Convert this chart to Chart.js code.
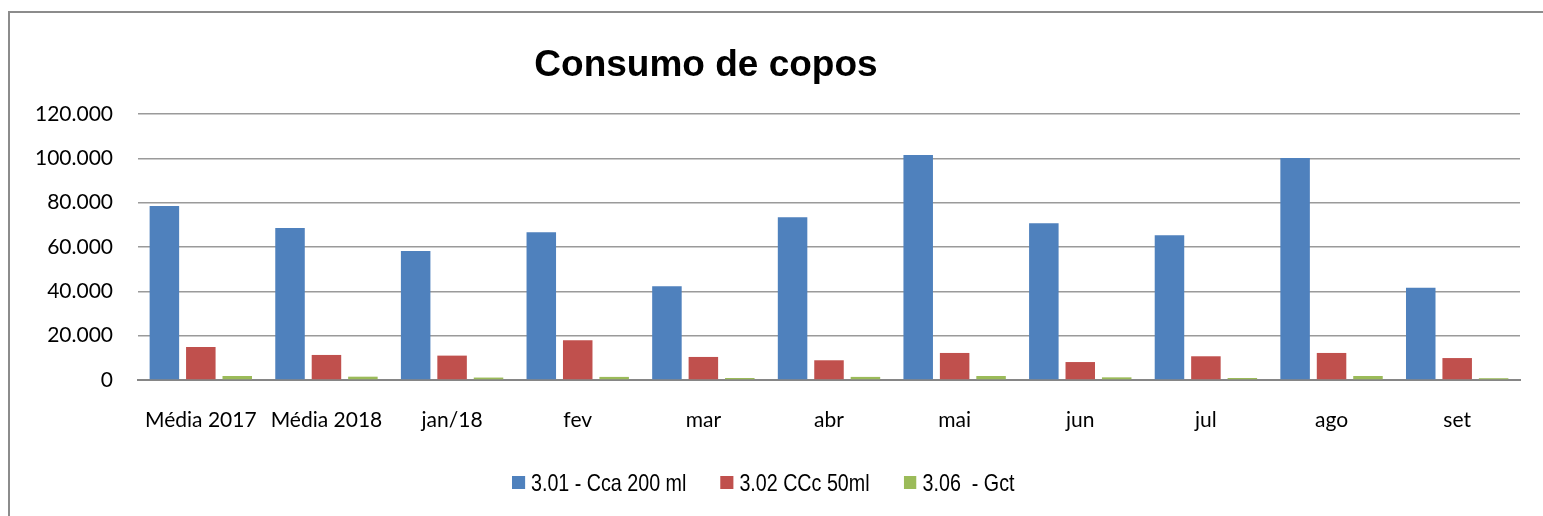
<!DOCTYPE html>
<html>
<head>
<meta charset="utf-8">
<script src="https://cdn.jsdelivr.net/npm/chart.js@4.4.0/dist/chart.umd.min.js"></script>
<style>
    body { margin: 0; background: #fff; }
    #wrap { position: relative; width: 1543px; height: 516px; overflow: hidden; }
    #frame {
        position: absolute; left: 8px; top: 11px; width: 1600px; height: 600px;
        border-left: 2px solid #8c8c8c; border-top: 2px solid #8c8c8c;
    }
    #title {
        position: absolute; left: 406px; width: 600px; top: 45px;
        text-align: center; line-height: 1;
        font-family: 'Liberation Sans', Arial, sans-serif;
        font-weight: bold; font-size: 37px; color: #000;
    }
    #chart { position: absolute; left: 0; top: 0; }
    /* narrow look of the legend text: the whole row is squeezed horizontally */
    #legend {
        position: absolute; left: 512px; top: 470px; height: 25px;
        display: flex; align-items: center; white-space: pre;
        transform: scaleX(0.82); transform-origin: left center;
        font-family: 'Liberation Sans', Arial, sans-serif; font-size: 24px; color: #000;
    }
    #legend .item { display: flex; align-items: center; margin-right: 41.5px; }
    #legend .box { width: 15.9px; height: 13px; margin-right: 7.3px; }
</style>
</head>
<body>
<div id="wrap">
    <div id="frame"></div>
    <canvas id="chart" width="1543" height="516"></canvas>
    <div id="title">Consumo de copos</div>
    <div id="legend"></div>
</div>
<script>
const categories = ['Média 2017', 'Média 2018', 'jan/18', 'fev', 'mar', 'abr', 'mai', 'jun', 'jul', 'ago', 'set'];
const seriesNames = ['3.01 - Cca 200 ml', '3.02 CCc 50ml', '3.06  - Gct'];
const cca200 = [78500, 68600, 58200, 66600, 42300, 73400, 101500, 70700, 65300, 100100, 41600];
const ccc50 = [14900, 11300, 11000, 17900, 10400, 8900, 12200, 8100, 10700, 12200, 9900];
const gct = [1800, 1500, 1100, 1400, 900, 1400, 1800, 1200, 900, 1800, 800];
const yTicks = [0, 20000, 40000, 60000, 80000, 100000, 120000];

const colors = ['#4F81BD', '#C0504D', '#9BBB59'];
const axisFont = { family: 'Lato', size: 21 };

function formatThousands(v) {
    return String(v).replace(/\B(?=(\d{3})+(?!\d))/g, '.');
}

const ctx = document.getElementById('chart');
const chart = new Chart(ctx, {
    type: 'bar',
    data: {
        labels: categories,
        datasets: [cca200, ccc50, gct].map((values, i) => ({
            label: seriesNames[i],
            data: values,
            backgroundColor: colors[i],
            borderWidth: 0,
            categoryPercentage: 0.87,
            barPercentage: 0.81
        }))
    },
    options: {
        responsive: false,
        animation: false,
        layout: {
            padding: { left: 8, right: 23, top: 114, bottom: 74 }
        },
        plugins: {
            title: { display: false },
            tooltip: { enabled: false },
            legend: { display: false }
        },
        scales: {
            x: {
                grid: { display: false },
                border: { display: true, color: '#868686', width: 2 },
                ticks: { color: '#000', font: axisFont, padding: 20, maxRotation: 0 },
                afterFit: (scale) => { scale.height = 62; }
            },
            y: {
                min: yTicks[0],
                max: yTicks[yTicks.length - 1],
                border: { display: false },
                grid: { color: '#9a9a9a', lineWidth: 1.5, drawTicks: false },
                afterBuildTicks: (scale) => { scale.ticks = yTicks.map(v => ({ value: v })); },
                ticks: {
                    color: '#000',
                    font: axisFont,
                    padding: 25,
                    callback: (value) => formatThousands(value)
                },
                afterFit: (scale) => { scale.width = 130; }
            }
        }
    }
});

// Custom legend built from the chart's datasets
const legend = document.getElementById('legend');
legend.innerHTML = chart.data.datasets.map(ds => `
    <div class="item">
        <span class="box" style="background-color: ${ds.backgroundColor}"></span>
        <span class="label">${ds.label}</span>
    </div>
`).join('');
</script>
</body>
</html>
